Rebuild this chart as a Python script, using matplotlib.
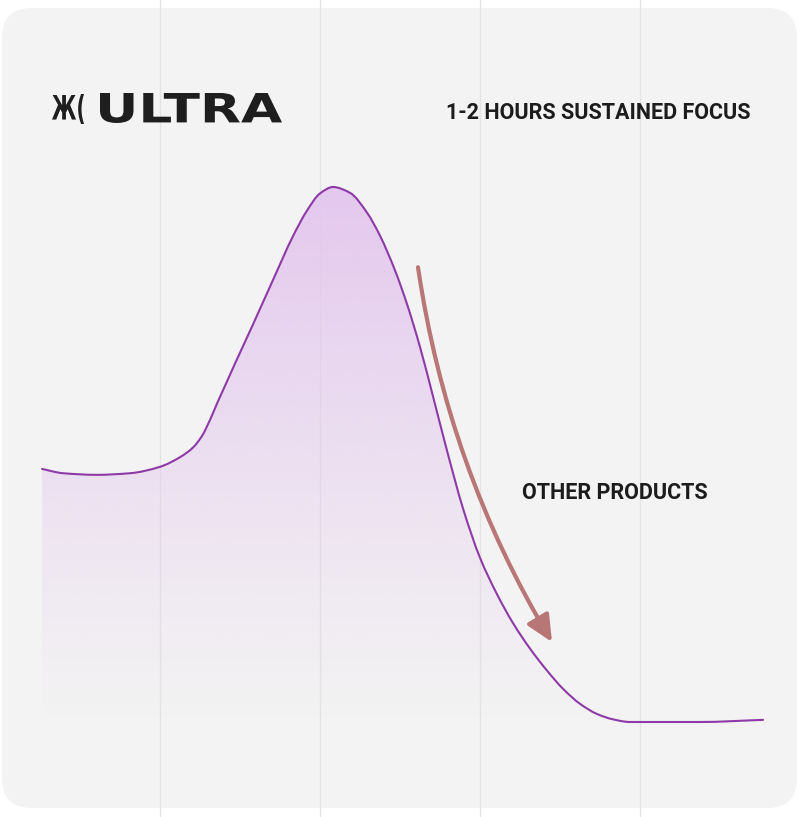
import numpy as np
import matplotlib
matplotlib.use('Agg')
import matplotlib.pyplot as plt
import matplotlib.transforms as mtransforms
from matplotlib.path import Path
from matplotlib.patches import PathPatch, FancyBboxPatch, FancyArrowPatch
from matplotlib.textpath import TextPath
from matplotlib.font_manager import FontProperties

# focus curve (hours vs focus level, peak = 100)
hours = [0.263, 0.394, 0.606, 0.813, 1.0, 1.125, 1.206, 1.263, 1.313, 1.356,
         1.581, 1.706, 1.831, 1.919, 2.0, 2.081, 2.188, 2.294, 2.375, 2.469,
         2.544, 2.625, 2.706, 2.794, 2.894, 3.0, 3.106, 3.206, 3.313, 3.419,
         3.519, 3.625, 3.731, 3.831, 3.938, 4.375, 4.769]
focus = [47.3, 46.5, 46.2, 46.5, 47.7, 49.5, 51.3, 53.5, 56.5, 59.5,
         74.3, 82.6, 90.8, 95.6, 98.8, 100.0, 98.9, 95.2, 90.9, 84.4,
         78.1, 70.1, 60.9, 50.7, 39.9, 30.7, 23.9, 18.5, 13.7, 9.6,
         6.2, 3.4, 1.5, 0.5, 0.0, 0.0, 0.4]
grid_hours = [1, 2, 3, 4]

title_text = '1-2 HOURS SUSTAINED FOCUS'
other_text = 'OTHER PRODUCTS'
logo_text = 'ULTRA'

# arrow start / end (hours, focus)
arrow_start = (2.6125, 85.0)
arrow_end = (3.45, 14.95)

W, H = 800, 817
card_color = '#f3f3f3'
line_color = '#8e3aa6'
fill_rgb = np.array([228, 200, 238]) / 255
arrow_color = '#b97676'
text_color = '#1c1c1c'


def smooth_path(xs, ys):
    '''Monotone cubic (pchip style) through the points, as bezier segments.'''
    x = np.asarray(xs, float)
    y = np.asarray(ys, float)
    h = np.diff(x)
    d = np.diff(y) / h
    m = np.zeros_like(y)
    for i in range(1, len(x) - 1):
        if d[i - 1] * d[i] > 0:
            w1 = 2 * h[i] + h[i - 1]
            w2 = h[i] + 2 * h[i - 1]
            m[i] = (w1 + w2) / (w1 / d[i - 1] + w2 / d[i])
    m[0], m[-1] = d[0], d[-1]
    verts = [(x[0], y[0])]
    codes = [Path.MOVETO]
    for i in range(len(x) - 1):
        verts += [(x[i] + h[i] / 3, y[i] + m[i] * h[i] / 3),
                  (x[i + 1] - h[i] / 3, y[i + 1] - m[i + 1] * h[i] / 3),
                  (x[i + 1], y[i + 1])]
        codes += [Path.CURVE4] * 3
    return np.array(verts), codes


fig = plt.figure(figsize=(W / 100, H / 100), dpi=100)
fig.patch.set_facecolor('white')
ax = fig.add_axes([0, 0, 1, 1])
ax.set_axis_off()

# rounded card in pixels
card = FancyBboxPatch((2, 9), 795, 800, boxstyle='round,pad=0,rounding_size=30',
                      transform=mtransforms.IdentityTransform(),
                      facecolor=card_color, edgecolor='none', zorder=0)
ax.add_patch(card)

for h in grid_hours:
    ax.axvline(h, color='#e3e3e3', lw=0.9, zorder=1)

verts, codes = smooth_path(hours, focus)
fill_verts = np.vstack([verts, [[hours[-1], 0], [hours[0], 0], [hours[0], focus[0]]]])
fill_codes = codes + [Path.LINETO, Path.LINETO, Path.CLOSEPOLY]
fill_patch = PathPatch(Path(fill_verts, fill_codes), facecolor='none', edgecolor='none')
ax.add_patch(fill_patch)

n = 256
grad = np.zeros((n, 1, 4))
grad[:, 0, :3] = fill_rgb
grad[:, 0, 3] = np.linspace(0, 1, n) ** 1.1
img = ax.imshow(grad, extent=(hours[0], hours[-1], 0, max(focus)), origin='lower',
                aspect='auto', zorder=2, interpolation='bilinear')
img.set_clip_path(fill_patch)

ax.add_patch(PathPatch(Path(verts, codes), facecolor='none', edgecolor=line_color,
                       lw=1.5, zorder=3, capstyle='round'))

arrow = FancyArrowPatch(arrow_start, arrow_end, connectionstyle='arc3,rad=0.1',
                        arrowstyle='-|>,head_length=16,head_width=7.5',
                        mutation_scale=1, color=arrow_color, lw=3,
                        shrinkA=0, shrinkB=0, zorder=4)
ax.add_patch(arrow)

ax.set_xlim(0, W / 160)
ax.set_ylim(-95 / 5.35, 722 / 5.35)

fig.text(598 / W, 1 - 119 / H, title_text, ha='center', va='baseline',
         fontsize=15.5, fontweight='bold', family='Roboto', color=text_color)
fig.text(614.5 / W, 1 - 499 / H, other_text, ha='center', va='baseline',
         fontsize=15.5, fontweight='bold', family='Roboto', color=text_color)


def put_glyphs(s, x0, x1, top, bottom, family):
    tp = TextPath((0, 0), s, size=10, prop=FontProperties(family=family, weight='bold'))
    bb = tp.get_extents()
    tr = (mtransforms.Affine2D().translate(-bb.x0, -bb.y0)
          .scale((x1 - x0) / bb.width, (bottom - top) / bb.height)
          .translate(x0, H - bottom))
    ax.add_patch(PathPatch(tr.transform_path(tp), transform=mtransforms.IdentityTransform(),
                           facecolor='#1e1e1e', edgecolor='none', zorder=5))


put_glyphs(logo_text, 100, 282, 93, 123, 'DejaVu Sans')
put_glyphs('Ж(', 52, 84, 94, 124, 'DejaVu Sans')

fig.savefig('out.png', dpi=100, facecolor='white')
